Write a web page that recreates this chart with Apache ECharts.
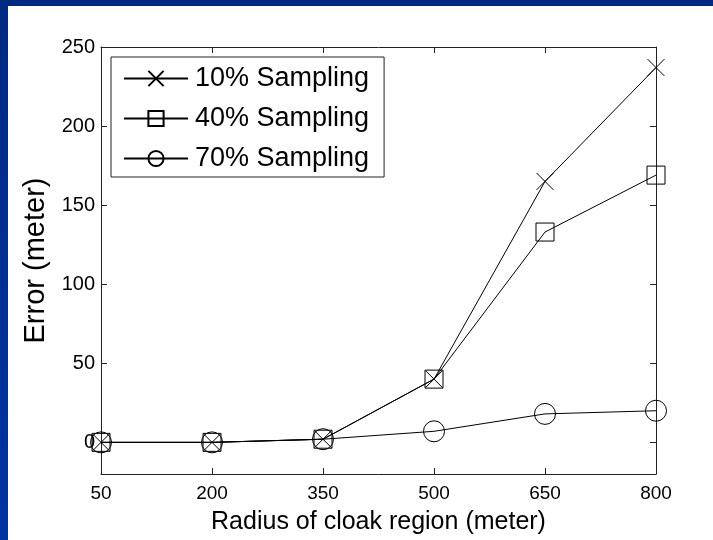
<!DOCTYPE html>
<html>
<head>
<meta charset="utf-8">
<script src="https://cdn.jsdelivr.net/npm/echarts@6/dist/echarts.min.js"></script>
<style>
  html, body { margin: 0; padding: 0; background: #fff; }
  #main { width: 713px; height: 540px; }
</style>
</head>
<body>
<div id="main"></div>
<script>
var radius = ["50", "200", "350", "500", "650", "800"];
var sampling10 = [0, 0, 2, 40, 165, 237];
var sampling40 = [0, 0, 2, 40, 133, 169];
var sampling70 = [0, 0, 2, 7, 18, 20];
var yTicks = [0, 50, 100, 150, 200, 250];
var seriesNames = ["10% Sampling", "40% Sampling", "70% Sampling"];

var font = "Arial, 'Liberation Sans', sans-serif";
var axisColor = "#222";

function makeSeries(name, data, symbol, size) {
    return {
        name: name,
        type: "line",
        data: data,
        symbol: symbol,
        symbolSize: size,
        symbolKeepAspect: true,
        showAllSymbol: true,
        lineStyle: { color: "#000", width: 1 },
        itemStyle: { color: "transparent", borderColor: "#000", borderWidth: 1 },
        emphasis: { disabled: true },
        animation: false
    };
}

var myChart = echarts.init(document.getElementById("main"));
myChart.setOption({
    backgroundColor: "#fff",
    animation: false,
    graphic: [
        {
            type: "rect",
            left: 0, top: 0, z: -10,
            shape: { width: 713, height: 6 },
            style: { fill: "#002A82" }
        },
        {
            type: "rect",
            left: 0, top: 0, z: -10,
            shape: { width: 8, height: 540 },
            style: {
                fill: new echarts.graphic.LinearGradient(0, 0, 0, 1, [
                    { offset: 0, color: "#002A82" },
                    { offset: 1, color: "#0034A3" }
                ])
            }
        }
    ],
    grid: { left: 101, right: 57, top: 47, bottom: 62 },
    legend: {
        orient: "vertical",
        left: 111,
        top: 57,
        padding: [8, 15, 5, 12],
        itemWidth: 64,
        itemHeight: 19,
        itemGap: 13,
        backgroundColor: "#fff",
        borderColor: axisColor,
        borderWidth: 1,
        borderRadius: 0,
        selectedMode: false,
        textStyle: { fontFamily: font, fontSize: 27, color: "#000", padding: [0, 0, 0, 2] },
        data: seriesNames
    },
    xAxis: [
        {
            type: "category",
            data: radius,
            boundaryGap: false,
            name: "Radius of cloak region (meter)",
            nameLocation: "middle",
            nameGap: 36,
            nameTextStyle: { fontFamily: font, fontSize: 25, color: "#000" },
            axisLine: { onZero: false, lineStyle: { color: axisColor, width: 1 } },
            axisTick: { inside: true, length: 6, lineStyle: { color: axisColor } },
            axisLabel: { fontFamily: font, fontSize: 19, color: "#000", margin: 10 },
            splitLine: { show: false }
        },
        {
            type: "category",
            data: radius,
            boundaryGap: false,
            position: "top",
            axisLine: { onZero: false, lineStyle: { color: axisColor, width: 1 } },
            axisTick: { inside: true, length: 6, lineStyle: { color: axisColor } },
            axisLabel: { show: false },
            splitLine: { show: false }
        }
    ],
    yAxis: [
        {
            type: "value",
            min: -20,
            max: 250,
            name: "Error (meter)",
            nameLocation: "middle",
            nameGap: 50,
            nameTextStyle: { fontFamily: font, fontSize: 29, color: "#000" },
            axisLine: { show: true, onZero: false, lineStyle: { color: axisColor, width: 1 } },
            axisTick: { show: true, inside: true, length: 6, customValues: yTicks, lineStyle: { color: axisColor } },
            axisLabel: { fontFamily: font, fontSize: 20, color: "#000", margin: 6, customValues: yTicks },
            splitLine: { show: false }
        },
        {
            type: "value",
            min: -20,
            max: 250,
            position: "right",
            axisLine: { show: true, onZero: false, lineStyle: { color: axisColor, width: 1 } },
            axisTick: { show: true, inside: true, length: 6, customValues: yTicks, lineStyle: { color: axisColor } },
            axisLabel: { show: false, customValues: yTicks },
            splitLine: { show: false }
        }
    ],
    series: [
        makeSeries(seriesNames[0], sampling10, "path://M0,0L10,10M10,0L0,10", 17),
        makeSeries(seriesNames[1], sampling40, "rect", 18),
        makeSeries(seriesNames[2], sampling70, "circle", 21)
    ]
});
</script>
</body>
</html>
